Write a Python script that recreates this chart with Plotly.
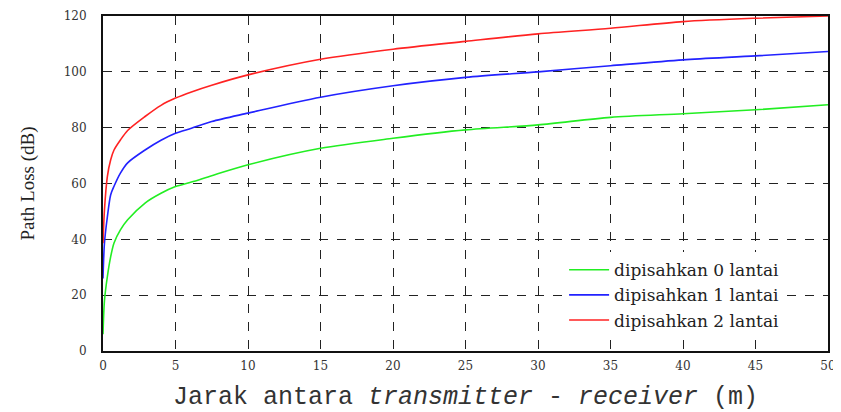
import plotly.graph_objects as go

# distance (m)
distance = [0, 0.1, 0.3, 0.53, 0.76, 1.2, 1.7, 2.9, 4, 5, 6.1, 7.5, 10, 15, 20, 25, 30, 35, 40, 45, 50]
# path loss (dB)
loss_0_lantai = [6, 18, 26.6, 33.8, 38.7, 43.4, 47, 53, 56.5, 58.9, 60.5, 62.8, 66.7, 72.6, 76.2, 79.2, 81, 83.7, 85, 86.4, 88.2]
loss_1_lantai = [26, 38.6, 48, 56, 59, 63.7, 67.4, 72, 75.5, 78, 79.8, 82.2, 85.2, 90.9, 95, 98, 100, 102.2, 104.3, 105.7, 107.3]
loss_2_lantai = [38.6, 50.5, 62.5, 68.5, 72, 75.6, 79, 84, 88, 90.6, 92.8, 95.2, 98.9, 104.5, 108.1, 110.9, 113.6, 115.6, 118, 119.2, 120]

series_names = ["dipisahkan 0 lantai", "dipisahkan 1 lantai", "dipisahkan 2 lantai"]
series_colors = ["#22ee22", "#2222ff", "#ff2222"]

x_ticks = [0, 5, 10, 15, 20, 25, 30, 35, 40, 45, 50]
y_ticks = [0, 20, 40, 60, 80, 100, 120]

fig = go.Figure()
for name, ys, col in zip(series_names, [loss_0_lantai, loss_1_lantai, loss_2_lantai], series_colors):
    fig.add_trace(go.Scatter(x=distance, y=ys, mode="lines", name=name,
                             line=dict(color=col, width=1.6, shape="spline", smoothing=0.8)))

axis_font = dict(family="DejaVu Serif", size=12, color="#333")
fig.update_layout(
    width=833, height=404,
    margin=dict(l=95, r=13, t=8, b=61, autoexpand=False),
    paper_bgcolor="white", plot_bgcolor="white",
    showlegend=True,
    legend=dict(x=0.636, y=0.295, xanchor="left", yanchor="top",
                bgcolor="white", borderwidth=0,
                font=dict(family="DejaVu Serif", size=17, color="#222"),
                tracegroupgap=0, itemwidth=40),
    xaxis=dict(range=[0, 50], tickvals=x_ticks, ticktext=[str(v) for v in x_ticks],
               showgrid=True, gridcolor="#222", griddash="dash", gridwidth=1,
               showline=True, linecolor="#111", linewidth=2, mirror=True,
               ticks="", tickfont=axis_font, zeroline=False, automargin=False,
               ticklabelstandoff=3,
               title=dict(text="Jarak antara <i>transmitter</i> - <i>receiver</i> (m)",
                          font=dict(family="Liberation Mono", size=25, color="#333"), standoff=16)),
    yaxis=dict(range=[0, 120], tickvals=y_ticks, ticktext=[str(v) for v in y_ticks],
               showgrid=True, gridcolor="#222", griddash="dash", gridwidth=1,
               showline=True, linecolor="#111", linewidth=2, mirror=True,
               ticks="", tickfont=axis_font, zeroline=False, automargin=False,
               ticklabelstandoff=12,
               title=dict(text="Path Loss (dB)",
                          font=dict(family="Liberation Serif", size=19, color="#222"), standoff=24)),
)

fig.write_html("out.html")
